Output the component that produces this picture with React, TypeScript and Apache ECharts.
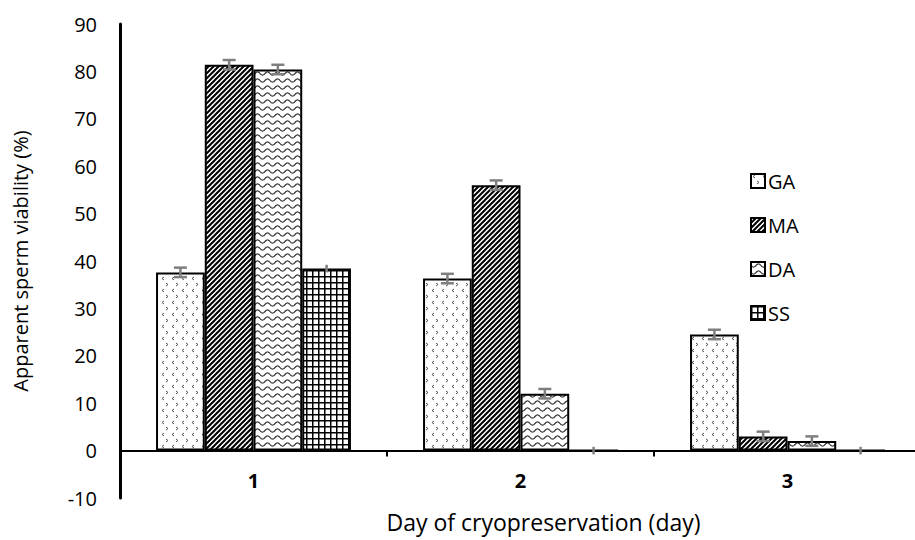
import React, { useEffect, useRef } from "react";
import * as echarts from "echarts";

const days = ["1", "2", "3"];
const seriesNames = ["GA", "MA", "DA", "SS"];
const gaValues = [37.6, 36.3, 24.5];
const maValues = [81.4, 56.0, 3.0];
const daValues = [80.4, 12.0, 2.0];
const ssValues = [38.4, 0, 0];
const gaErrors = [1.0, 1.0, 1.0];
const maErrors = [1.0, 1.0, 1.0];
const daErrors = [1.0, 1.0, 1.0];
const ssErrors = [0.8, 0.8, 0.8];
const yTicks = [-10, 0, 10, 20, 30, 40, 50, 60, 70, 80, 90];

const FONT = "'Open Sans', 'Noto Sans', sans-serif";

function makeTile(w: number, h: number, draw: (c: CanvasRenderingContext2D) => void): string {
  const cv = document.createElement("canvas");
  cv.width = w;
  cv.height = h;
  const c = cv.getContext("2d") as CanvasRenderingContext2D;
  c.fillStyle = "#ffffff";
  c.fillRect(0, 0, w, h);
  draw(c);
  return cv.toDataURL();
}

function patterns() {
  const ga = makeTile(10, 12, (c) => {
    c.strokeStyle = "#555";
    c.lineWidth = 1;
    c.beginPath();
    c.moveTo(4, 1);
    c.lineTo(2, 2.5);
    c.lineTo(4, 4);
    c.moveTo(6, 7);
    c.lineTo(8, 8.5);
    c.lineTo(6, 10);
    c.stroke();
  });
  const ma = makeTile(5, 5, (c) => {
    c.strokeStyle = "#000";
    c.lineWidth = 2;
    c.beginPath();
    for (let k = -1; k <= 1; k++) {
      c.moveTo(k * 5 - 1, 6);
      c.lineTo(k * 5 + 6, -1);
    }
    c.stroke();
  });
  const da = makeTile(10, 7, (c) => {
    c.strokeStyle = "#333";
    c.lineWidth = 1.2;
    c.beginPath();
    for (let x = 0; x <= 10; x += 0.5) {
      const y = 3.5 + 1.6 * Math.sin((2 * Math.PI * x) / 10);
      if (x === 0) c.moveTo(x, y);
      else c.lineTo(x, y);
    }
    c.stroke();
  });
  const ss = makeTile(6, 6, (c) => {
    c.fillStyle = "#000";
    c.fillRect(0, 0, 6, 1.5);
    c.fillRect(0, 0, 1.5, 6);
  });
  return [ga, ma, da, ss];
}

export default function App() {
  const ref = useRef<HTMLDivElement>(null);
  useEffect(() => {
    if (!ref.current) return;
    const chart = echarts.init(ref.current, undefined, { renderer: "svg" });
    const pats = patterns();
    const values = [gaValues, maValues, daValues, ssValues];
    const errors = [gaErrors, maErrors, daErrors, ssErrors];
    const caps = [true, true, true, false];
    const barSeries = seriesNames.map((name, i) => ({
      name,
      type: "bar",
      data: values[i],
      barGap: "0%",
      barCategoryGap: "27%",
      itemStyle: {
        color: { image: pats[i], repeat: "repeat" },
        borderColor: "#000",
        borderWidth: 2,
      },
      emphasis: { disabled: true },
      z: 2,
    }));
    const errSeries = seriesNames.map((name, i) => ({
      name: "err" + name,
      type: "custom",
      z: 5,
      data: values[i].map((v, j) => [j, v, errors[i][j]]),
      renderItem: (params: any, api: any) => {
        const x = api.value(0);
        const v = api.value(1);
        const e = api.value(2);
        const c = api.coord([x, v]);
        const catW = api.size([1, 0])[0];
        const bw = (catW * 0.73) / 4;
        const cx = c[0] + (i - 1.5) * bw;
        const top = api.coord([x, v + e])[1];
        const bot = api.coord([x, v - e])[1];
        const style = { stroke: "#7f7f7f", lineWidth: 2.5 };
        const children: any[] = [
          { type: "line", shape: { x1: cx, y1: top, x2: cx, y2: bot }, style },
        ];
        if (caps[i]) {
          children.push({ type: "line", shape: { x1: cx - 6.5, y1: top, x2: cx + 6.5, y2: top }, style });
          children.push({ type: "line", shape: { x1: cx - 6.5, y1: bot, x2: cx + 6.5, y2: bot }, style });
        }
        return { type: "group", children };
      },
    }));
    chart.setOption({
      animation: false,
      textStyle: { fontFamily: FONT },
      grid: { left: 120, right: -6, top: 24, bottom: 42, outerBoundsMode: "none", containLabel: false },
      legend: {
        data: seriesNames,
        orient: "vertical",
        left: 745,
        top: 166,
        itemWidth: 14,
        itemHeight: 14,
        itemGap: 24,
        icon: "rect",
        textStyle: { fontFamily: FONT, fontSize: 20, color: "#000", padding: [0, 0, 0, -2] },
        selectedMode: false,
      },
      xAxis: {
        type: "category",
        data: days,
        name: "Day of cryopreservation (day)",
        nameLocation: "middle",
        nameGap: 12,
        nameTextStyle: { fontFamily: FONT, fontSize: 23, color: "#000", padding: [0, 0, 0, 46] },
        axisLine: { onZero: true, lineStyle: { color: "#000", width: 2 } },
        axisTick: { show: true, length: 6, lineStyle: { color: "#000", width: 2 } },
        axisLabel: { fontFamily: FONT, fontSize: 20, fontWeight: "bold", color: "#000", margin: -28 },
      },
      yAxis: {
        type: "value",
        min: yTicks[0],
        max: yTicks[yTicks.length - 1],
        interval: 10,
        name: "Apparent sperm viability (%)",
        nameLocation: "middle",
        nameGap: 90,
        nameTextStyle: { fontFamily: FONT, fontSize: 20, color: "#000" },
        axisLine: { show: true, onZero: false, lineStyle: { color: "#000", width: 3 } },
        axisTick: { show: false },
        splitLine: { show: false },
        axisLabel: { fontFamily: FONT, fontSize: 20, color: "#000", margin: 23 },
      },
      series: [...barSeries, ...errSeries],
    });
    return () => chart.dispose();
  }, []);
  return (
    <div
      ref={ref}
      style={{ position: "fixed", left: 0, top: 0, width: 915, height: 540, background: "#fff" }}
    />
  );
}
